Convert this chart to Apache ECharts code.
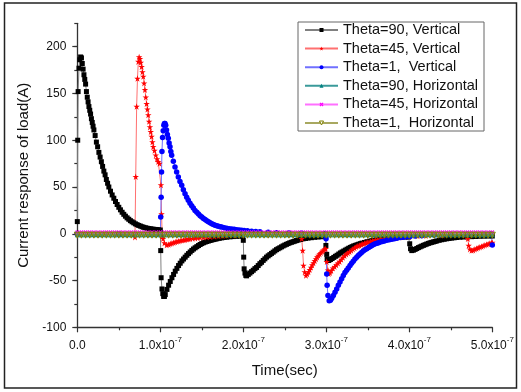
<!DOCTYPE html>
<html>
<head>
<meta charset="utf-8">
<script src="https://cdn.jsdelivr.net/npm/echarts@6/dist/echarts.min.js"></script>
<style>html,body{margin:0;padding:0;background:#fff;}#c{width:521px;height:392px;}</style>
</head>
<body>
<div id="c"></div>
<script>
// time in ns (axis labels shown as x10^-7 s), current in A
const seriesNames = ['Theta=90, Vertical','Theta=45, Vertical','Theta=1,  Vertical','Theta=90, Horizontal','Theta=45, Horizontal','Theta=1,  Horizontal'];
const xTickLabels = ['0.0','1.0','2.0','3.0','4.0','5.0'];
const yTickLabels = ['-100','-50','0','50','100','150','200'];

const theta90V = [[0,13],[0.5,100],[1,152],[2,177],[3,186],[4,189],[5,188],[6,182],[7,176],[8,170],[9,165],[10,160],[11,152],[12,146],[13,141],[14,136],[15,132],[16,128],[17,123],[18,119],[19,115],[20,111],[21.5,105],[23,98],[24.5,93],[26,87],[27.5,82],[29,77],[30.5,72],[32,67],[33.5,63],[35,58],[36.5,54],[38,50],[40,45.5],[42,41.5],[44,38],[46,34.5],[48,31.3],[50,28.3],[52,25.6],[54,23],[56,20.8],[58,18.8],[60,17],[62,15.5],[64,14],[66,12.8],[68,11.7],[70,10.6],[72,9.7],[74,8.9],[76,8.2],[78,7.5],[80,6.9],[82,6.4],[84,6],[86,5.6],[88,5.3],[90,5],[92,4.8],[94,4.6],[96,4.4],[98,4.2],[100,4],
[100.5,-18],[101,-47],[102,-59],[103,-64],[104,-67],[105,-67],[106,-65],[108,-59.5],[110,-55],[112,-51],[114,-47],[116,-43.5],[118,-40],[120,-37],[122,-34],[124,-31.5],[126,-29],[128,-27],[130,-25],[132,-23],[134,-21.2],[136,-19.5],[138,-17.8],[140,-16.3],[142,-15],[144,-13.8],[146,-12.6],[148,-11.5],[150,-10.5],[152,-9.6],[154,-8.9],[156,-8.3],[158,-7.7],[160,-7.2],[162,-6.7],[164,-6.2],[166,-5.8],[168,-5.4],[171,-4.9],[174,-4.4],[177,-4],[180,-3.7],[184,-3.3],[188,-3],[192,-2.8],[196,-2.6],[199,-2.5],
[200,-7],[200.5,-25],[201,-37.5],[202,-42],[203,-44.5],[204,-45],[206,-43.5],[208,-42],[210,-40.5],[212,-39],[214,-37.3],[216,-36],[218,-34],[220,-32],[222,-30.5],[224,-28.5],[226,-26.8],[228,-25],[230,-23.6],[232,-22.3],[234,-21],[236,-19.7],[238,-18.3],[240,-17],[242,-16],[244,-15],[246,-14],[248,-13],[250,-12.1],[252,-11.3],[254,-10.5],[256,-9.7],[258,-9.1],[260,-8.5],[262,-7.9],[264,-7.3],[266,-6.8],[269,-6.1],[272,-5.4],[275,-5],[278,-4.6],[282,-4.2],[286,-3.8],[290,-3.5],[295,-3.2],[299,-3],
[299.5,-12.5],[300.5,-22],[301,-27],[302,-28.5],[303,-28.6],[305,-27.5],[307,-26.5],[309,-25.3],[311,-24.1],[313,-23],[315,-21.7],[317,-20.5],[319,-19.5],[321,-18.5],[323,-17.5],[325,-16.5],[327,-15.5],[329,-14.6],[331,-13.8],[333,-13],[335,-12.4],[337,-11.8],[339,-11.2],[341,-10.6],[343,-10],[346,-9.3],[349,-8.5],[352,-7.9],[355,-7.3],[358,-6.8],[361,-6.3],[365,-5.8],[369,-5.3],[373,-4.9],[377,-4.6],[381,-4.3],[385,-4.1],[390,-3.8],[395,-3.6],[399,-3.5],
[400.5,-10.7],[401.5,-16],[403,-18],[405,-17.5],[407,-16.7],[409,-15.8],[411,-14.8],[413,-14],[415,-13.2],[417,-12.4],[419,-11.7],[421,-11],[423,-10.3],[425,-9.7],[427,-9.2],[429,-8.7],[431,-8.2],[433,-7.7],[436,-7],[439,-6.4],[442,-5.9],[445,-5.4],[448,-5],[451,-4.6],[454,-4.3],[457,-4],[461,-3.7],[465,-3.5],[470,-3.3],[475,-3.1],[480,-2.9],[485,-2.7],[490,-2.6],[495,-2.5],[500,-2.4]];

const theta45V = [[0,0],[35,0],[69,0],[69.5,-3.6],[70.4,61],[71.5,136],[72.5,166],[73.5,184],[74.5,189],[75.5,187],[76.5,183],[77.5,178.5],[78.5,173],[79.5,168],[80.5,161],[81.5,154],[82.5,146],[83.5,139],[84.5,133],[85.5,127],[86.5,120],[87.5,114],[88.5,109],[89.5,104],[90.5,98],[91.5,93],[93,89],[94.5,84],[96,80],[97.5,77],[99,75],
[100.8,52],[101.5,21],[102.3,-2],[103.3,-5.4],[105,-10],[107.7,-12],[110,-11.5],[112,-10.8],[114,-10.2],[116,-9.5],[118,-8.9],[120,-8.3],[122,-7.9],[124,-7.4],[126,-7],[128,-6.7],[130,-6.4],[132,-6],[134,-5.7],[136,-5.4],[139,-5],[142,-4.7],[145,-4.4],[148,-4.1],[152,-3.8],[156,-3.6],[160,-3.2],[165,-2.8],[170,-2.5],[175,-2.1],[180,-1.8],[190,-1.3],[200,-1],[230,-0.5],[269,-0.5],
[270.4,-5.4],[271.5,-18],[272.5,-34],[274,-41],[275.5,-44.7],[277,-43],[278.5,-41],[280,-38.5],[281.5,-36],[283,-33.5],[284.5,-31.3],[286,-29],[287.5,-27],[289,-25],[290.5,-23.3],[292,-21.8],[293.5,-20.3],[295,-19],[296.5,-17.6],[298,-16.5],[299.3,-16],
[300.5,-30],[302,-39],[303,-42.8],[304.5,-41.7],[306,-39.6],[308,-37],[310,-35.2],[312,-33.5],[314,-31.6],[316,-29.8],[318,-27.6],[320,-25.5],[322,-23.6],[324,-22],[326,-20.7],[328,-19.3],[330,-18],[332,-16.5],[334,-15.2],[336,-14],[338,-13.2],[340,-12.5],[342,-11.6],[344,-10.9],[346,-10.2],[348,-9.6],[350,-9],[353,-8],[356,-7.2],[359,-6.6],[362,-6.1],[366,-5.6],[370,-5.2],[374,-4.9],[378,-4.5],[383,-4.1],[388,-3.6],[392,-3.2],[400,-2.8],[410,-2.4],[420,-2],[440,-1.5],[469,-1.2],
[470.5,-5.4],[471.5,-12.5],[473,-16.5],[475,-18],[477,-17.5],[479,-16.6],[481,-15.8],[483,-15],[485,-14.3],[487,-13.6],[489,-12.9],[491,-12.2],[493,-11.6],[495,-11],[497,-10.3],[499,-9.7],[500,-9.5]];

const theta1V = [[0,0],[50,0],[100,0],[100.5,18],[101,39],[101.5,66],[102,88],[102.7,103],[103.5,110],[104.3,116],[105,118],[105.7,118],[106.5,116],[107.5,111],[108.5,106],[109.6,102],[110.6,97],[111.7,93],[112.7,88],[113.7,84],[115.7,77.5],[117.7,71.4],[119.7,66],[121.7,60.7],[123.7,56],[125.8,51.8],[127.8,47],[129.8,42.9],[131.8,39],[133.7,35.7],[135.8,32.5],[137.8,30],[139.8,27.5],[141.8,25],[144,23],[146,21],[148,19.3],[150,17.8],[152,16.4],[154,15.2],[156,14],[158,12.8],[160,11.8],[162,10.7],[164,9.9],[166,9.2],[168,8.6],[170,8],[172,7.5],[174,7.1],[177,6.5],[180,5.9],[183,5.4],[186,5],[189,4.7],[192,4.3],[195,4],[198,3.7],[201,3.4],[205,3.1],[210,2.8],[215,2.5],[220,2.2],[230,1.7],[240,1.2],[255,0.8],[270,0.5],[299,0.3],
[299.7,-5.4],[300.5,-43],[301,-55],[302,-66],[303.5,-71.5],[305,-71],[306.5,-69],[308.5,-66],[310.5,-62.5],[312.5,-59],[314.5,-55],[316.5,-51.5],[318.5,-48],[320.5,-44.7],[322.5,-41.5],[324.5,-39],[326.5,-36.5],[328.6,-34],[330.5,-31.5],[332.5,-29.5],[334.5,-27],[336.6,-25],[338.5,-23.3],[340.5,-21.6],[342.5,-20],[344.5,-18.5],[346.5,-17.2],[348.7,-16],[351,-14.6],[353,-13.5],[355,-12.5],[357,-11.6],[359,-10.8],[361,-10.1],[363,-9.5],[365,-8.9],[367.5,-8.3],[370,-7.7],[373,-7],[376,-6.4],[379,-5.8],[382,-5.2],[385,-4.7],[389,-4.1],[393,-3.6],[397,-3.2],[401,-2.9],[407,-2.5],[415,-2],[430,-1.4],[450,-0.9],[470,-0.6],[490,-0.4],[499,-0.3],[500,-12]];

const tH = [0,5,10,15,20,25,30,35,40,45,50,55,60,65,70,75,80,85,90,95,100,105,110,115,120,125,130,135,140,145,150,155,160,165,170,175,180,185,190,195,200,205,210,215,220,225,230,235,240,245,250,255,260,265,270,275,280,285,290,295,300,305,310,315,320,325,330,335,340,345,350,355,360,365,370,375,380,385,390,395,400,405,410,415,420,425,430,435,440,445,450,455,460,465,470,475,480,485,490,495,500];
const theta90H = [-1,-1,-1,-1,-1,-1,-1,-1,-1,-1,-1,-1,-1,-1,-1,-1,-1,-1,-1,-1,-1,-1,-1,-1,-1,-1,-1,-1,-1,-1,-1,-1,-1,-1,-1,-1,-1,-1,-1,-1,-1,-1,-1,-1,-1,-1,-1,-1,-1,-1,-1,-1,-1,-1,-1,-1,-1,-1,-1,-1,-1,-1,-1,-1,-1,-1,-1,-1,-1,-1,-1,-1,-1,-1,-1,-1,-1,-1,-1,-1,-1,-1,-1,-1,-1,-1,-1,-1,-1,-1,-1,-1,-1,-1,-1,-1,-1,-1,-1,-1,-1];
const theta45H = [1.8,1.8,1.8,1.8,1.8,1.8,1.8,1.8,1.8,1.8,1.8,1.8,1.8,1.8,1.8,1.8,1.8,1.8,1.8,1.8,1.8,1.8,1.8,1.8,1.8,1.8,1.8,1.8,1.8,1.8,1.8,1.8,1.8,1.8,1.8,1.8,1.8,1.8,1.8,1.8,1.8,1.8,1.8,1.8,1.8,1.8,1.8,1.8,1.8,1.8,1.8,1.8,1.8,1.8,1.8,1.8,1.8,1.8,1.8,1.8,1.8,1.8,1.8,1.8,1.8,1.8,1.8,1.8,1.8,1.8,1.8,1.8,1.8,1.8,1.8,1.8,1.8,1.8,1.8,1.8,1.8,1.8,1.8,1.8,1.8,1.8,1.8,1.8,1.8,1.8,1.8,1.8,1.8,1.8,1.8,1.8,1.8,1.8,1.8,1.8,1.8];
const theta1H = [-1.5,-1.5,-1.5,-1.5,-1.5,-1.5,-1.5,-1.5,-1.5,-1.5,-1.5,-1.5,-1.5,-1.5,-1.5,-1.5,-1.5,-1.5,-1.5,-1.5,-1.5,-1.5,-1.5,-1.5,-1.5,-1.5,-1.5,-1.5,-1.5,-1.5,-1.5,-1.5,-1.5,-1.5,-1.5,-1.5,-1.5,-1.5,-1.5,-1.5,-1.5,-1.5,-1.5,-1.5,-1.5,-1.5,-1.5,-1.5,-1.5,-1.5,-1.5,-1.5,-1.5,-1.5,-1.5,-1.5,-1.5,-1.5,-1.5,-1.5,-1.5,-1.5,-1.5,-1.5,-1.5,-1.5,-1.5,-1.5,-1.5,-1.5,-1.5,-1.5,-1.5,-1.5,-1.5,-1.5,-1.5,-1.5,-1.5,-1.5,-1.5,-1.5,-1.5,-1.5,-1.5,-1.5,-1.5,-1.5,-1.5,-1.5,-1.5,-1.5,-1.5,-1.5,-1.5,-1.5,-1.5,-1.5,-1.5,-1.5,-1.5];

const FONT = '"Liberation Sans", Arial, sans-serif';
const STAR = 'path://M5,0 L6.2,3.6 L10,3.6 L6.9,5.8 L8.1,9.5 L5,7.2 L1.9,9.5 L3.1,5.8 L0,3.6 L3.8,3.6 Z';
const XMARK = 'path://M0,2 L2,0 L5,3 L8,0 L10,2 L7,5 L10,8 L8,10 L5,7 L2,10 L0,8 L3,5 Z';
const DTRI = 'path://M0,0 L10,0 L5,9 Z';

function pairs(t, v){ return t.map((x,i)=>[x, v[i]]); }

const chart = echarts.init(document.getElementById('c'), null, {renderer:'canvas'});
const axisColor = '#333';
const legendData = seriesNames.map((n, i) => i === 5
  ? {name: n, itemStyle: {color: '#ffffff', borderColor: '#808000', borderWidth: 1}}
  : {name: n});
chart.setOption({
  animation: false,
  backgroundColor: '#fff',
  graphic: [{type:'rect', shape:{x:4.5, y:3, width:512, height:385}, style:{fill:'none', stroke:'#222', lineWidth:1.5}, z:-1}],
  grid: {left: 77.3, right: 28.7, top: 23.3, bottom: 64.7},
  legend: {
    orient: 'vertical', left: 298, top: 22,
    padding: [0,6,0,6], itemGap: 2.6, itemWidth: 33, itemHeight: 5,
    borderColor: '#666', borderWidth: 1, backgroundColor: '#fff',
    textStyle: {fontFamily: FONT, fontSize: 14.5, color: '#111', lineHeight: 16},
    data: legendData
  },
  xAxis: {
    type: 'value', min: 0, max: 500, interval: 100,
    name: 'Time(sec)', nameLocation: 'middle', nameGap: 36,
    nameTextStyle: {fontFamily: FONT, fontSize: 15, color: '#111'},
    axisLine: {show: true, onZero: false, lineStyle: {color: axisColor, width: 1.3}},
    axisTick: {show: true, inside: false, length: 5, lineStyle: {color: axisColor, width: 1.2}},
    minorTick: {show: true, splitNumber: 2, length: 3, lineStyle: {color: axisColor, width: 1.2}},
    splitLine: {show: false},
    axisLabel: {
      margin: 8, color: '#111', fontFamily: FONT,
      formatter: function(v){ const s = xTickLabels[Math.round(v/100)]; return v === 0 ? '{n|' + s + '}' : '{n|' + s + 'x10}{s|-7}'; },
      rich: {n: {fontSize: 12, fontFamily: FONT, color: '#111', lineHeight: 16, verticalAlign: 'bottom'},
             s: {fontSize: 8, fontFamily: FONT, color: '#111', lineHeight: 16, verticalAlign: 'top'}}
    }
  },
  yAxis: [{
    type: 'value', min: -100, max: 225, interval: 50,
    name: 'Current response of load(A)', nameLocation: 'middle', nameGap: 42,
    nameTextStyle: {fontFamily: FONT, fontSize: 15, color: '#111'},
    axisLine: {show: true, onZero: false, lineStyle: {color: axisColor, width: 1.3}},
    axisTick: {show: true, inside: false, length: 5, lineStyle: {color: axisColor, width: 1.2}},
    splitLine: {show: false},
    axisLabel: {margin: 11, fontSize: 12, fontFamily: FONT, color: '#111', showMaxLabel: false,
      formatter: function(v){ const i = Math.round((v + 100)/50); return (v % 50 === 0 && yTickLabels[i] !== undefined) ? yTickLabels[i] : ''; }}
  },{
    type: 'value', min: -100, max: 225, interval: 25, position: 'left',
    axisLine: {show: false}, axisLabel: {show: false}, splitLine: {show: false},
    axisTick: {show: true, inside: false, length: 3, lineStyle: {color: axisColor, width: 1.2}}
  }],
  series: [
    {name: seriesNames[0], type: 'line', data: theta90V, symbol: 'rect', symbolSize: 5,
     itemStyle: {color: '#000'}, lineStyle: {color: '#808080', width: 1}},
    {name: seriesNames[1], type: 'line', data: theta45V, symbol: STAR, symbolSize: 6.5,
     itemStyle: {color: '#ff0000'}, lineStyle: {color: '#ff7070', width: 1}},
    {name: seriesNames[2], type: 'line', data: theta1V, symbol: 'circle', symbolSize: 5.5,
     itemStyle: {color: '#0000ff'}, lineStyle: {color: '#7070ff', width: 1}},
    {name: seriesNames[3], type: 'line', data: pairs(tH, theta90H), symbol: 'triangle', symbolSize: 5,
     itemStyle: {color: '#008080'}, lineStyle: {color: '#3a9a9a', width: 1}},
    {name: seriesNames[4], type: 'line', data: pairs(tH, theta45H), symbol: XMARK, symbolSize: 4,
     itemStyle: {color: '#ff00ff'}, lineStyle: {color: '#ff70ff', width: 1}},
    {name: seriesNames[5], type: 'line', data: pairs(tH, theta1H), symbol: DTRI, symbolSize: 6,
     itemStyle: {color: 'rgba(160,155,60,0.55)', borderColor: '#808000', borderWidth: 1}, lineStyle: {color: '#a8a860', width: 1}}
  ]
});
</script>
</body>
</html>
